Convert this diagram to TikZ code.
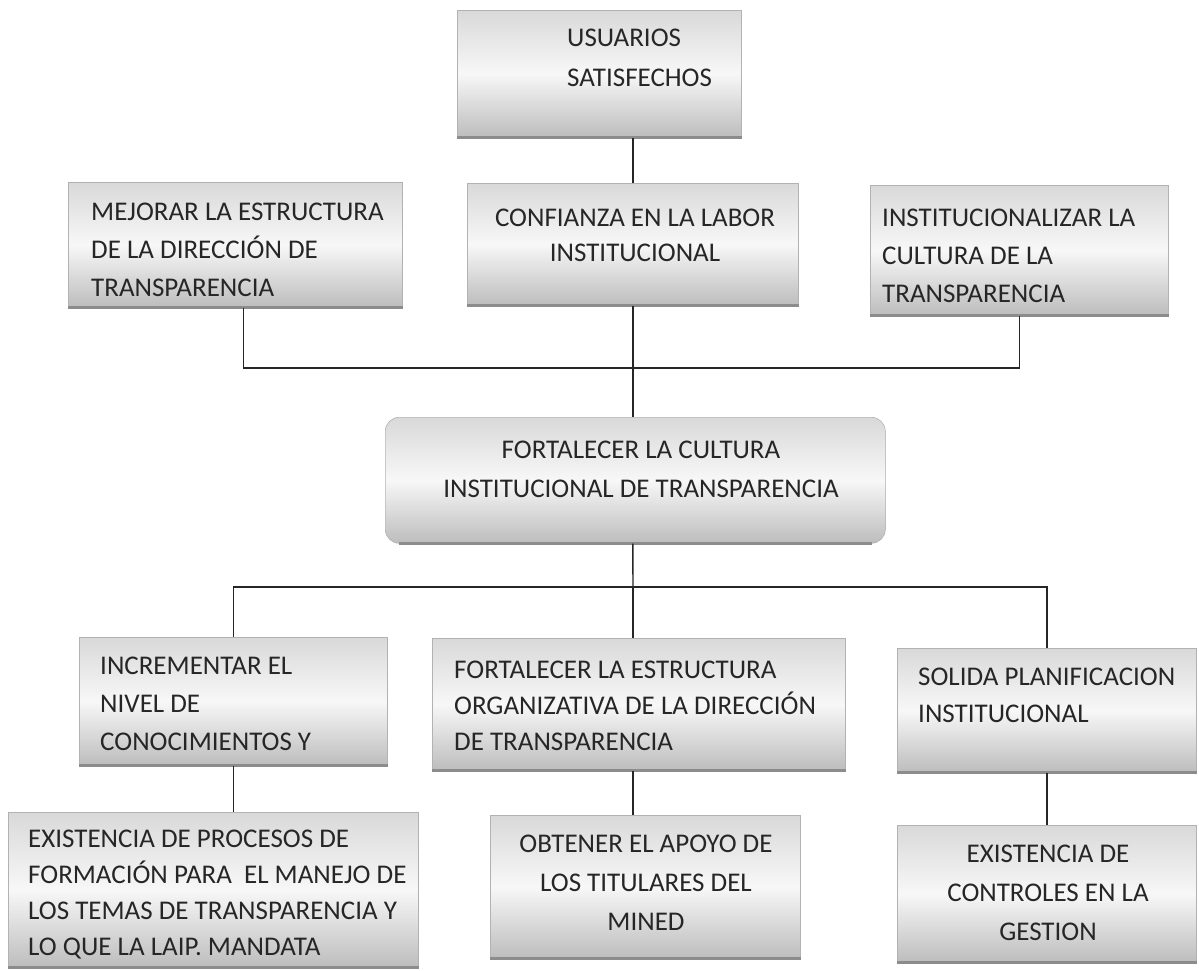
\documentclass[tikz,border=0pt]{standalone}
\usepackage{fontspec}
\setmainfont{Carlito}
\begin{document}
\begin{tikzpicture}[x=1pt,y=-1pt,
  box/.style={draw=black!30, line width=0.6pt, top color=black!15, bottom color=black!26, middle color=black!3, inner sep=0pt, anchor=north west},
  txt/.style={inner sep=0pt, font=\fontsize{27}{38}\selectfont, text=black!85},
  link/.style={draw=black!85, line width=1.4pt},
  shadowline/.style={draw=black!45, line width=2.5pt}]
\useasboundingbox (0,0) rectangle (1199,971);
% boxes
\node[box, minimum width=284pt, minimum height=127pt] (usu) at (457,10) {};
\node[box, minimum width=334pt, minimum height=125pt] (mej) at (68,182) {};
\node[box, minimum width=331pt, minimum height=122pt] (con) at (467,183) {};
\node[box, minimum width=298pt, minimum height=130pt] (ins) at (870,185) {};
\node[box, rounded corners=14pt, minimum width=500pt, minimum height=126pt] (cen) at (385,417) {};
\node[box, minimum width=308pt, minimum height=128pt] (inc) at (79,637) {};
\node[box, minimum width=413pt, minimum height=132pt] (fes) at (432,638) {};
\node[box, minimum width=299pt, minimum height=124pt] (sol) at (897,648) {};
\node[box, minimum width=410pt, minimum height=155pt] (exi) at (8,812) {};
\node[box, minimum width=310pt, minimum height=143pt] (obt) at (490,815) {};
\node[box, minimum width=299pt, minimum height=137pt] (ctl) at (897,825) {};
% bottom shadows
\foreach \n in {usu,mej,con,ins,inc,fes,sol,exi,obt,ctl}
  \draw[shadowline] (\n.south west) -- (\n.south east);
\draw[shadowline] ([xshift=14pt]cen.south west) -- ([xshift=-14pt]cen.south east);
% texts (anchored at the baseline of the last line)
\node[txt, anchor=base west, align=left] (tusu) at (567,87) {USUARIOS\\[2pt]SATISFECHOS};
\node[txt, anchor=base west, align=left] (tmej) at (91,296) {MEJORAR LA ESTRUCTURA\\DE LA DIRECCIÓN DE\\TRANSPARENCIA};
\node[txt, anchor=base, align=center] (tcon) at (635,261) {CONFIANZA EN LA LABOR\\[-3pt]INSTITUCIONAL};
\node[txt, anchor=base west, align=left] (tins) at (882,302) {INSTITUCIONALIZAR LA\\CULTURA DE LA\\TRANSPARENCIA};
\node[txt, anchor=base, align=center] (tcen) at (641,497) {FORTALECER LA CULTURA\\[1pt]INSTITUCIONAL DE TRANSPARENCIA};
\node[txt, anchor=base west, align=left] (tinc) at (100,750) {INCREMENTAR EL\\NIVEL DE\\CONOCIMIENTOS Y};
\node[txt, anchor=base west, align=left] (tfes) at (454,750) {FORTALECER LA ESTRUCTURA\\[-2pt]ORGANIZATIVA DE LA DIRECCIÓN\\[-2pt]DE TRANSPARENCIA};
\node[txt, anchor=base west, align=left] (tsol) at (918,722) {SOLIDA PLANIFICACION\\[-1pt]INSTITUCIONAL};
\node[txt, anchor=base west, align=left] (texi) at (28,955) {EXISTENCIA DE PROCESOS DE\\[-2pt]FORMACIÓN PARA~ EL MANEJO DE\\[-2pt]LOS TEMAS DE TRANSPARENCIA Y\\[-2pt]LO QUE LA LAIP. MANDATA};
\node[txt, anchor=base, align=center] (tobt) at (646,930) {OBTENER EL APOYO DE\\[1pt]LOS TITULARES DEL\\[1pt]MINED};
\node[txt, anchor=base, align=center] (tctl) at (1048,940) {EXISTENCIA DE\\[1pt]CONTROLES EN LA\\[1pt]GESTION};
% connectors
\coordinate (j1) at (633,368);
\coordinate (j2) at (633,587);
\draw[link] (con.north) -- (con.north |- usu.south);
\draw[link] ([xshift=8pt]mej.south) |- (j1) -| (ins.south);
\draw[link] (con.south) -- (con.south |- cen.north);
\draw[link] (con.south |- cen.south) -- (j2);
\draw[link] (inc.north) |- (j2) -| (sol.north);
\draw[link] (j2) -- (j2 |- fes.north);
\draw[link] (inc.south) -- (inc.south |- exi.north);
\draw[link] (j2 |- fes.south) -- (j2 |- obt.north);
\draw[link] (sol.south) -- (ctl.north);
\end{tikzpicture}
\end{document}
